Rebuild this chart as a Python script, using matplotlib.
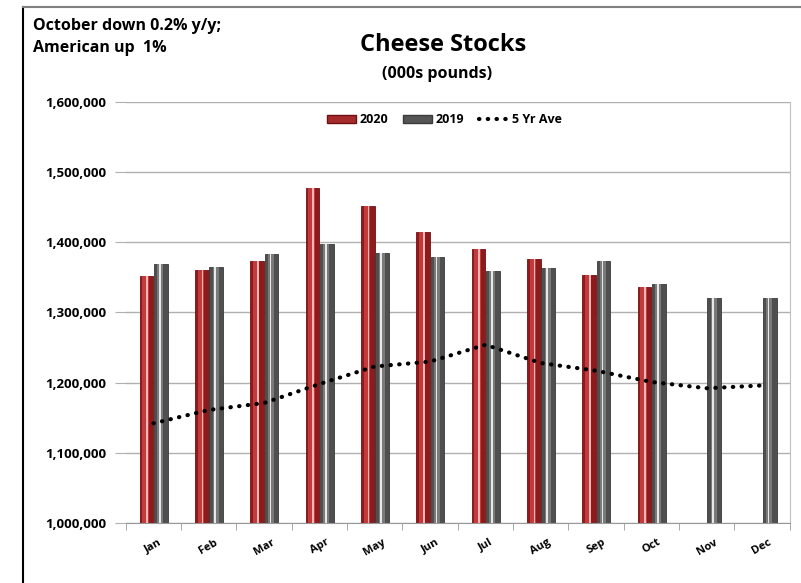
import matplotlib.pyplot as plt
import numpy as np
from matplotlib.lines import Line2D
from matplotlib.patches import Patch

# --- Data (000s pounds) ---
months = ["Jan", "Feb", "Mar", "Apr", "May", "Jun", "Jul", "Aug", "Sep", "Oct", "Nov", "Dec"]
stocks_2020 = [1352, 1360, 1374, 1478, 1452, 1415, 1390, 1376, 1354, 1337]
stocks_2019 = [1369, 1365, 1383, 1397, 1385, 1379, 1359, 1363, 1373, 1340, 1320, 1320]
five_yr_ave = [1142, 1161, 1171, 1198, 1223, 1230, 1254, 1228, 1217, 1201, 1192, 1196]

plt.rcParams["font.family"] = ["Open Sans", "DejaVu Sans"]

fig = plt.figure(figsize=(8.01, 5.83), dpi=100)
ax = fig.add_axes([0.157, 0.103, 0.829, 0.722])

x = np.arange(len(months))
w = 0.25
x20 = x[:len(stocks_2020)] - w / 2
x19 = x - w / 2 + w + 0.01

v20 = np.array(stocks_2020) * 1000
v19 = np.array(stocks_2019) * 1000

# --- Bars with a simple "glossy" look ---
ax.bar(x20, v20, width=w, color="#8e1a1c", edgecolor="#6e1012", linewidth=0.6, zorder=2)
ax.bar(x20 - 0.02, v20, width=w * 0.45, color="#c23a3c", linewidth=0, zorder=3)
ax.bar(x20 + 0.01, v20, width=w * 0.12, color="#f2b8b8", linewidth=0, zorder=4)

ax.bar(x19, v19, width=w, color="#4f4f4f", edgecolor="#3a3a3a", linewidth=0.6, zorder=2)
ax.bar(x19 - 0.01, v19, width=w * 0.45, color="#7a7a7a", linewidth=0, zorder=3)
ax.bar(x19 - 0.02, v19, width=w * 0.12, color="#e8e8e8", linewidth=0, zorder=4)

# --- 5 year average ---
ax.plot(x, np.array(five_yr_ave) * 1000, color="black", linewidth=3,
        linestyle=(0, (0.1, 2)), dash_capstyle="round", zorder=5)

# --- Axes ---
ax.set_xlim(-0.5, 11.5)
ax.set_ylim(1_000_000, 1_600_000)
ax.set_yticks(np.arange(1_000_000, 1_600_001, 100_000))
ax.yaxis.set_major_formatter(plt.FuncFormatter(lambda v, p: f"{v:,.0f}"))
ax.grid(axis="y", color="#b0b0b0", linewidth=1, zorder=0)
ax.set_axisbelow(True)

ax.set_xticks(x)
ax.set_xticklabels(months, rotation=30, fontsize=8, fontweight="bold")
ax.set_xticks(np.arange(-0.5, 12, 1), minor=True)
ax.tick_params(axis="x", which="major", length=0, pad=10)
ax.tick_params(axis="x", which="minor", length=5, color="#999999")
ax.tick_params(axis="y", length=8, color="#b0b0b0", labelsize=9.5, pad=6)
for lbl in ax.get_yticklabels():
    lbl.set_fontweight("bold")

for s in ["left", "top"]:
    ax.spines[s].set_visible(False)
ax.spines["bottom"].set_color("#999999")
ax.spines["right"].set_color("#c0c0c0")

# --- Legend ---
handles = [
    Patch(facecolor="#a52a2c", edgecolor="#6e1012"),
    Patch(facecolor="#555555", edgecolor="#3a3a3a"),
    Line2D([0], [0], color="black", linewidth=3, linestyle=(0, (0.1, 2)), dash_capstyle="round"),
]
ax.legend(handles, ["2020", "2019", "5 Yr Ave"], loc="upper center", bbox_to_anchor=(0.48, 1.0),
          ncol=3, frameon=False, prop={"weight": "bold", "size": 9},
          handlelength=2.3, handleheight=0.6, columnspacing=1.2, handletextpad=0.3)

# --- Titles ---
fig.text(0.553, 0.922, "Cheese Stocks", ha="center", va="center", fontsize=17, fontweight="bold")
fig.text(0.546, 0.873, "(000s pounds)", ha="center", va="center", fontsize=11.5, fontweight="bold")
fig.text(0.041, 0.955, "October down 0.2% y/y;", ha="left", va="center", fontsize=11.5, fontweight="bold")
fig.text(0.041, 0.917, "American up  1%", ha="left", va="center", fontsize=11.5, fontweight="bold")

# --- Chart border ---
fig.add_artist(Line2D([0.029, 0.029], [0.0, 0.988], color="black", linewidth=1.5))
fig.add_artist(Line2D([0.029, 1.0], [0.988, 0.988], color="#808080", linewidth=1.5))

plt.savefig("out.png", dpi=100)
